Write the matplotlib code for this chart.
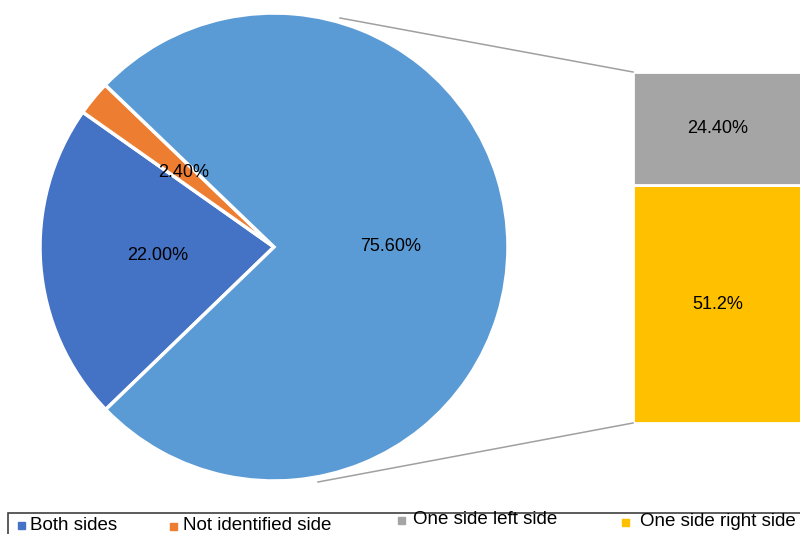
import matplotlib
matplotlib.use("Agg")
import matplotlib.pyplot as plt
from matplotlib.patches import Rectangle

plt.rcParams["font.family"] = ["Liberation Sans", "DejaVu Sans"]

# pie: both sides, not identified side, one side (split out into the bar)
pie_values = [22.0, 2.4, 75.6]
pie_colors = ["#4472C4", "#ED7D31", "#5B9BD5"]

# bar of "one side": right side (bottom), left side (top)
bar_values = [51.2, 24.4]
bar_labels = ["51.2%", "24.40%"]
bar_colors = ["#FFC000", "#A5A5A5"]

legend_labels = ["Both sides", "Not identified side", "One side left side", "One side right side"]
legend_colors = ["#4472C4", "#ED7D31", "#A5A5A5", "#FFC000"]

W, H = 800, 534
fig = plt.figure(figsize=(W / 100, H / 100), dpi=100)
ax = fig.add_axes([0, 0, 1, 1])


def Y(y):
    # pixel row from top -> data y
    return H - y


# pie
ax.pie(pie_values, colors=pie_colors, startangle=224, counterclock=False,
       center=(274, Y(247)), radius=234, autopct=lambda p: f"{p:.2f}%",
       pctdistance=0.5, textprops={"fontsize": 13, "color": "black"},
       wedgeprops={"edgecolor": "white", "linewidth": 2.5}, frame=True)

# stacked bar
bar_top, bar_bottom = 72, 423
scale = (bar_bottom - bar_top) / sum(bar_values)
bottom = Y(bar_bottom)
for v, lab, c in zip(bar_values, bar_labels, bar_colors):
    ax.bar(718, v * scale, width=170, bottom=bottom, color=c,
           edgecolor="white", linewidth=2)
    ax.text(718, bottom + v * scale / 2, lab, ha="center", va="center", fontsize=13)
    bottom += v * scale

# connector lines
ax.plot([340, 633], [Y(18), Y(bar_top)], color="#A0A0A0", linewidth=1.1)
ax.plot([318, 633], [Y(482), Y(bar_bottom)], color="#A0A0A0", linewidth=1.1)

# legend box
ax.add_patch(Rectangle((8, Y(545)), 800, 32, fill=False, edgecolor="#404040",
                       linewidth=1.2, clip_on=False))
leg_pos = [(18, 30, 525), (170, 183, 526), (398, 413, 520), (622, 640, 522)]
for (mx, tx, ty), lab, c in zip(leg_pos, legend_labels, legend_colors):
    ax.add_patch(Rectangle((mx, Y(ty) - 3.5), 7, 7, color=c))
    ax.text(tx, Y(ty), lab, ha="left", va="center", fontsize=13.5)

ax.set_xlim(0, W)
ax.set_ylim(0, H)
ax.set_aspect("auto")
ax.axis("off")

fig.savefig("out.png", dpi=100)
